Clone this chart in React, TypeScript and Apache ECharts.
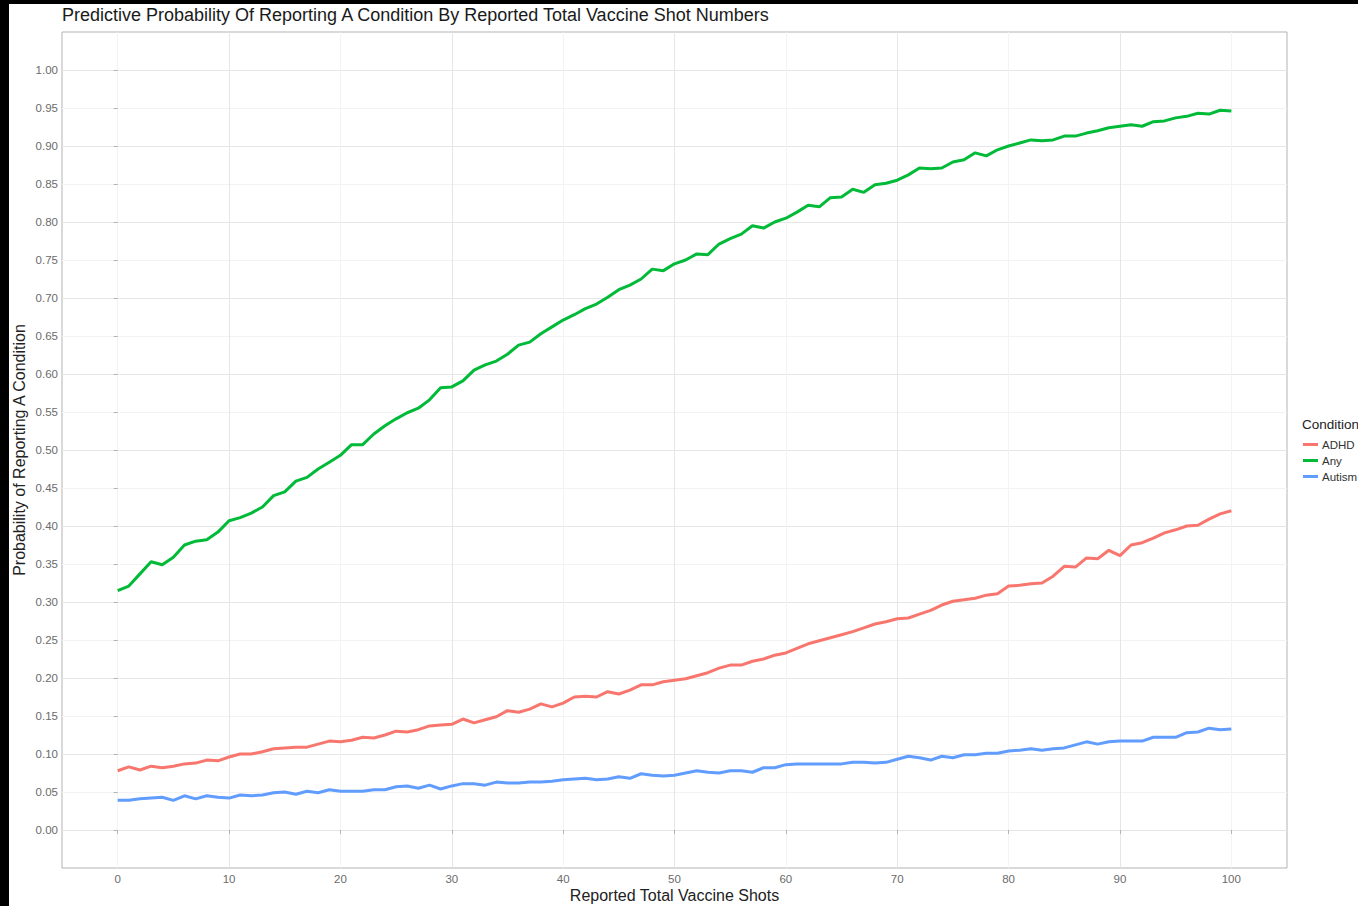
import React, { useEffect, useRef } from "react";
import * as echarts from "echarts";

const shots: number[] = Array.from({ length: 101 }, (_, i) => i);

const anyValues: number[] = [
  0.315, 0.321, 0.337, 0.353, 0.349, 0.359, 0.375, 0.38, 0.382, 0.392,
  0.407, 0.411, 0.417, 0.425, 0.44, 0.445, 0.459, 0.464, 0.475, 0.484,
  0.493, 0.507, 0.507, 0.521, 0.532, 0.541, 0.549, 0.555, 0.566, 0.582,
  0.583, 0.591, 0.605, 0.612, 0.617, 0.626, 0.638, 0.642, 0.653, 0.662,
  0.671, 0.678, 0.686, 0.692, 0.701, 0.711, 0.717, 0.725, 0.738, 0.736,
  0.745, 0.75, 0.758, 0.757, 0.771, 0.778, 0.784, 0.795, 0.792, 0.8,
  0.805, 0.813, 0.822, 0.82, 0.832, 0.833, 0.843, 0.839, 0.849, 0.851,
  0.855, 0.862, 0.871, 0.87, 0.871, 0.879, 0.882, 0.891, 0.887, 0.895,
  0.9, 0.904, 0.908, 0.907, 0.908, 0.913, 0.913, 0.917, 0.92, 0.924,
  0.926, 0.928, 0.926, 0.932, 0.933, 0.937, 0.939, 0.943, 0.942, 0.947,
  0.946,
];

const adhdValues: number[] = [
  0.078, 0.083, 0.079, 0.084, 0.082, 0.084, 0.087, 0.088, 0.092, 0.091,
  0.096, 0.1, 0.1, 0.103, 0.107, 0.108, 0.109, 0.109, 0.113, 0.117,
  0.116, 0.118, 0.122, 0.121, 0.125, 0.13, 0.129, 0.132, 0.137, 0.138,
  0.139, 0.146, 0.141, 0.145, 0.149, 0.157, 0.155, 0.159, 0.166, 0.162,
  0.167, 0.175, 0.176, 0.175, 0.182, 0.179, 0.184, 0.191, 0.191, 0.195,
  0.197, 0.199, 0.203, 0.207, 0.213, 0.217, 0.217, 0.222, 0.225, 0.23,
  0.233, 0.239, 0.245, 0.249, 0.253, 0.257, 0.261, 0.266, 0.271, 0.274,
  0.278, 0.279, 0.284, 0.289, 0.296, 0.301, 0.303, 0.305, 0.309, 0.311,
  0.321, 0.322, 0.324, 0.325, 0.334, 0.347, 0.346, 0.358, 0.357, 0.368,
  0.361, 0.375, 0.378, 0.384, 0.391, 0.395, 0.4, 0.401, 0.409, 0.416,
  0.42,
];

const autismValues: number[] = [
  0.039, 0.039, 0.041, 0.042, 0.043, 0.039, 0.045, 0.041, 0.045, 0.043,
  0.042, 0.046, 0.045, 0.046, 0.049, 0.05, 0.047, 0.051, 0.049, 0.053,
  0.051, 0.051, 0.051, 0.053, 0.053, 0.057, 0.058, 0.055, 0.059, 0.054,
  0.058, 0.061, 0.061, 0.059, 0.063, 0.062, 0.062, 0.063, 0.063, 0.064,
  0.066, 0.067, 0.068, 0.066, 0.067, 0.07, 0.068, 0.074, 0.072, 0.071,
  0.072, 0.075, 0.078, 0.076, 0.075, 0.078, 0.078, 0.076, 0.082, 0.082,
  0.086, 0.087, 0.087, 0.087, 0.087, 0.087, 0.089, 0.089, 0.088, 0.089,
  0.093, 0.097, 0.095, 0.092, 0.097, 0.095, 0.099, 0.099, 0.101, 0.101,
  0.104, 0.105, 0.107, 0.105, 0.107, 0.108, 0.112, 0.116, 0.113, 0.116,
  0.117, 0.117, 0.117, 0.122, 0.122, 0.122, 0.128, 0.129, 0.134, 0.132,
  0.133,
];

const yTickValues: number[] = [
  0, 0.05, 0.1, 0.15, 0.2, 0.25, 0.3, 0.35, 0.4, 0.45, 0.5,
  0.55, 0.6, 0.65, 0.7, 0.75, 0.8, 0.85, 0.9, 0.95, 1.0,
];
const xTickValues: number[] = [0, 10, 20, 30, 40, 50, 60, 70, 80, 90, 100];

const seriesNames = ["ADHD", "Any", "Autism"];
const seriesColors = ["#F8766D", "#00BA38", "#619CFF"];

const TITLE = "Predictive Probability Of Reporting A Condition By Reported Total Vaccine Shot Numbers";
const X_NAME = "Reported Total Vaccine Shots";
const Y_NAME = "Probability of Reporting A Condition";
const LEGEND_TITLE = "Condition";

const FONT = "'Liberation Sans', Arial, sans-serif";

export default function App() {
  const ref = useRef<HTMLDivElement>(null);

  useEffect(() => {
    if (!ref.current) return;
    const chart = echarts.init(ref.current, undefined, { renderer: "svg" });
    const values = [adhdValues, anyValues, autismValues];

    const gridLeft = 53;
    const gridTop = 28;
    const gridW = 1225;
    const gridH = 836;

    chart.setOption({
      animation: false,
      backgroundColor: "#ffffff",
      textStyle: { fontFamily: FONT },
      grid: {
        left: gridLeft,
        top: gridTop,
        width: gridW,
        height: gridH,
        show: true,
        borderColor: "#b3b3b3",
        borderWidth: 1,
        backgroundColor: "transparent",
      },
      xAxis: {
        type: "value",
        min: -5,
        max: 105,
        interval: 5,
        axisLine: { show: false },
        axisTick: {
          show: true,
          customValues: xTickValues,
          length: 4,
          lineStyle: { color: "#b3b3b3", width: 1 },
        },
        axisLabel: {
          customValues: xTickValues,
          color: "#6b6b6b",
          fontSize: 11.5,
          fontFamily: FONT,
          margin: 5,
          formatter: (v: number) => String(Math.round(v)),
        },
        splitLine: {
          show: true,
          lineStyle: { color: ["#f3f3f3", "#e6e6e6"], width: 1 },
        },
      },
      yAxis: {
        type: "value",
        min: -0.05,
        max: 1.05,
        interval: 0.025,
        axisLine: { show: false },
        axisTick: {
          show: true,
          customValues: yTickValues,
          length: 4,
          lineStyle: { color: "#b3b3b3", width: 1 },
        },
        axisLabel: {
          customValues: yTickValues,
          color: "#6b6b6b",
          fontSize: 11.5,
          fontFamily: FONT,
          margin: 4,
          formatter: (v: number) => v.toFixed(2),
        },
        splitLine: {
          show: true,
          lineStyle: { color: ["#e6e6e6", "#f3f3f3"], width: 1 },
        },
      },
      legend: {
        orient: "vertical",
        left: 1289,
        top: 429,
        icon: "rect",
        itemWidth: 15,
        itemHeight: 3,
        itemGap: 3,
        data: seriesNames,
        textStyle: { fontSize: 11.5, color: "#333333", fontFamily: FONT, lineHeight: 13, padding: [0, 0, 0, -1] },
      },
      graphic: [
        {
          type: "text",
          left: 53,
          top: 2,
          style: { text: TITLE, fontSize: 18, fill: "#1a1a1a", fontFamily: FONT },
        },
        {
          type: "text",
          x: gridLeft + gridW / 2,
          y: 891,
          style: {
            text: X_NAME,
            fontSize: 16,
            fill: "#222222",
            fontFamily: FONT,
            align: "center",
            verticalAlign: "middle",
          },
        },
        {
          type: "text",
          x: 10,
          y: gridTop + gridH / 2,
          rotation: Math.PI / 2,
          style: {
            text: Y_NAME,
            fontSize: 16,
            fill: "#222222",
            fontFamily: FONT,
            align: "center",
            verticalAlign: "middle",
          },
        },
        {
          type: "text",
          x: 1293,
          y: 420,
          style: {
            text: LEGEND_TITLE,
            fontSize: 13.5,
            fill: "#222222",
            fontFamily: FONT,
            align: "left",
            verticalAlign: "middle",
          },
        },
      ],
      series: seriesNames.map((name, i) => ({
        name,
        type: "line",
        data: shots.map((s, j) => [s, values[i][j]]),
        showSymbol: false,
        symbol: "none",
        lineStyle: { color: seriesColors[i], width: 3 },
        itemStyle: { color: seriesColors[i] },
        z: 3,
      })),
    });

    return () => chart.dispose();
  }, []);

  return (
    <div style={{ position: "fixed", left: 0, top: 0, width: 1358, height: 906, background: "#000000" }}>
      <div
        ref={ref}
        style={{ position: "absolute", left: 9, top: 4, width: 1349, height: 902, background: "#ffffff" }}
      />
    </div>
  );
}
